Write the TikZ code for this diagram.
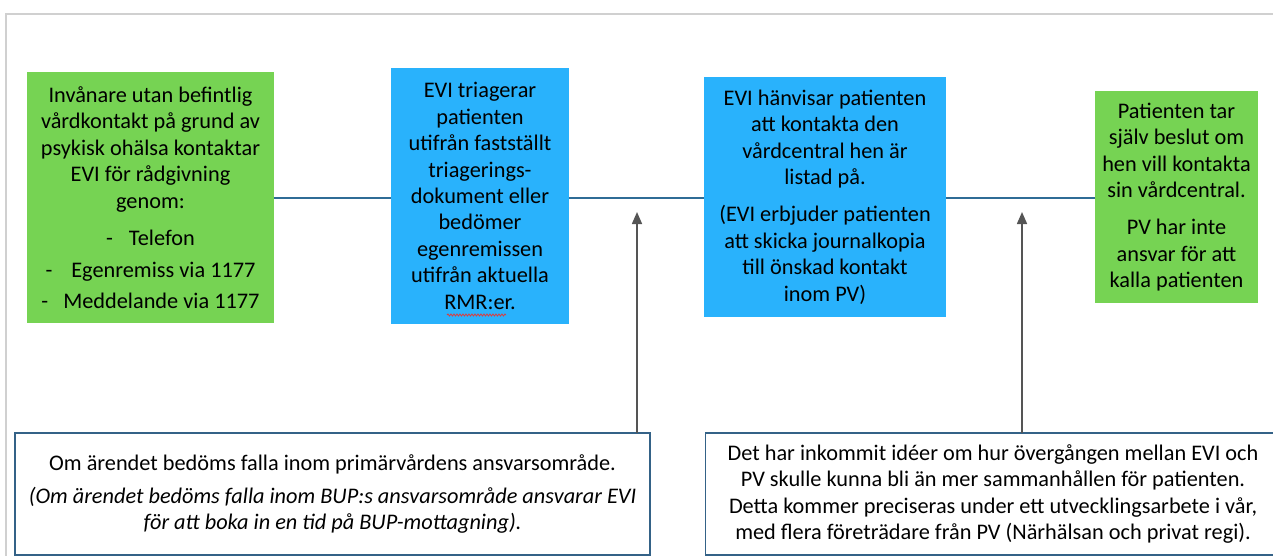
\documentclass[tikz,border=0pt]{standalone}
\usepackage{fontspec}
\setmainfont{Carlito}
\usetikzlibrary{arrows.meta,decorations.pathmorphing}
\definecolor{boxgreen}{RGB}{118,211,83}
\definecolor{boxblue}{RGB}{41,178,252}
\definecolor{linkblue}{RGB}{47,108,150}
\definecolor{noteedge}{RGB}{52,98,135}
\definecolor{arrowgray}{RGB}{85,85,85}
\definecolor{framegray}{RGB}{208,208,208}
\definecolor{spellred}{RGB}{220,60,60}
\begin{document}
\begin{tikzpicture}[x=1pt,y=-1pt,
  every node/.style={inner sep=0pt,outer sep=0pt},
  boxtext/.style={align=center,font=\fontsize{22.3}{26.4}\selectfont,text=black},
  greenbox/.style 2 args={boxtext,fill=boxgreen,minimum width=#1,minimum height=#2},
  bluebox/.style 2 args={boxtext,fill=boxblue,minimum width=#1,minimum height=#2},
  notebox/.style 2 args={boxtext,fill=white,draw=noteedge,line width=1.3pt,minimum width=#1,minimum height=#2},
  conn/.style={draw=linkblue,line width=2pt},
  uparrow/.style={draw=arrowgray,line width=1.6pt,-{Triangle[width=10pt,length=12pt]},fill=arrowgray},
  frameline/.style={draw=framegray,line width=2pt}
]
\useasboundingbox (0,0) rectangle (1273,556);
% frame
\draw[frameline] (5.5,560) -- (5.5,14) -- (1280,14);

% top row
\node[greenbox={247pt}{251pt}] (b1) at (150.5,197.5) {Invånare utan befintlig\\vårdkontakt på grund av\\psykisk ohälsa kontaktar\\EVI för rådgivning\\genom:\\[11pt]
-\hspace{16pt}Telefon\\[6pt]
-\hspace{19pt}Egenremiss via 1177\\[4pt]
-\hspace{15pt}Meddelande via 1177};
\node[bluebox={178pt}{256pt}] (b2) at (480,196) {EVI triagerar\\patienten\\utifrån fastställt\\triagerings-\\dokument eller\\bedömer\\egenremissen\\utifrån aktuella\\RMR:er.};
\node[bluebox={242pt}{240pt}] (b3) at (825,197) {EVI hänvisar patienten\\att kontakta den\\vårdcentral hen är\\listad på.\\[11pt]
(EVI erbjuder patienten\\att skicka journalkopia\\till önskad kontakt\\inom PV)};
\node[greenbox={163pt}{212pt}] (b4) at (1176.5,197) {Patienten tar\\själv beslut om\\hen vill kontakta\\sin vårdcentral.\\[11pt]
PV har inte\\ansvar för att\\kalla patienten};

% spell-check underline
\draw[spellred,line width=0.8pt,decorate,decoration={snake,amplitude=1pt,segment length=3pt}] (447,315) -- (506,315);

% connectors
\draw[conn] (b1.east |- 0,197.5) -- (b2.west |- 0,197.5);
\draw[conn] (b2.east |- 0,197.5) -- (b3.west |- 0,197.5);
\draw[conn] (b3.east |- 0,197.5) -- (b4.west |- 0,197.5);

% bottom notes
\node[notebox={635pt}{122pt}] (n1) at (332.5,494) {Om ärendet bedöms falla inom primärvårdens ansvarsområde.\\[7pt]
\itshape (Om ärendet bedöms falla inom BUP:s ansvarsområde ansvarar EVI\\\itshape för att boka in en tid på BUP-mottagning).};
\node[notebox={575pt}{122pt}] (n2) at (993,494) {Det har inkommit idéer om hur övergången mellan EVI och\\PV skulle kunna bli än mer sammanhållen för patienten.\\Detta kommer preciseras under ett utvecklingsarbete i vår,\\med flera företrädare från PV (Närhälsan och privat regi).};

% arrows
\coordinate (t1) at (637,212);
\coordinate (t2) at (1022,212);
\draw[uparrow] (n1.north -| t1) -- (t1);
\draw[uparrow] (n2.north -| t2) -- (t2);
\end{tikzpicture}
\end{document}
